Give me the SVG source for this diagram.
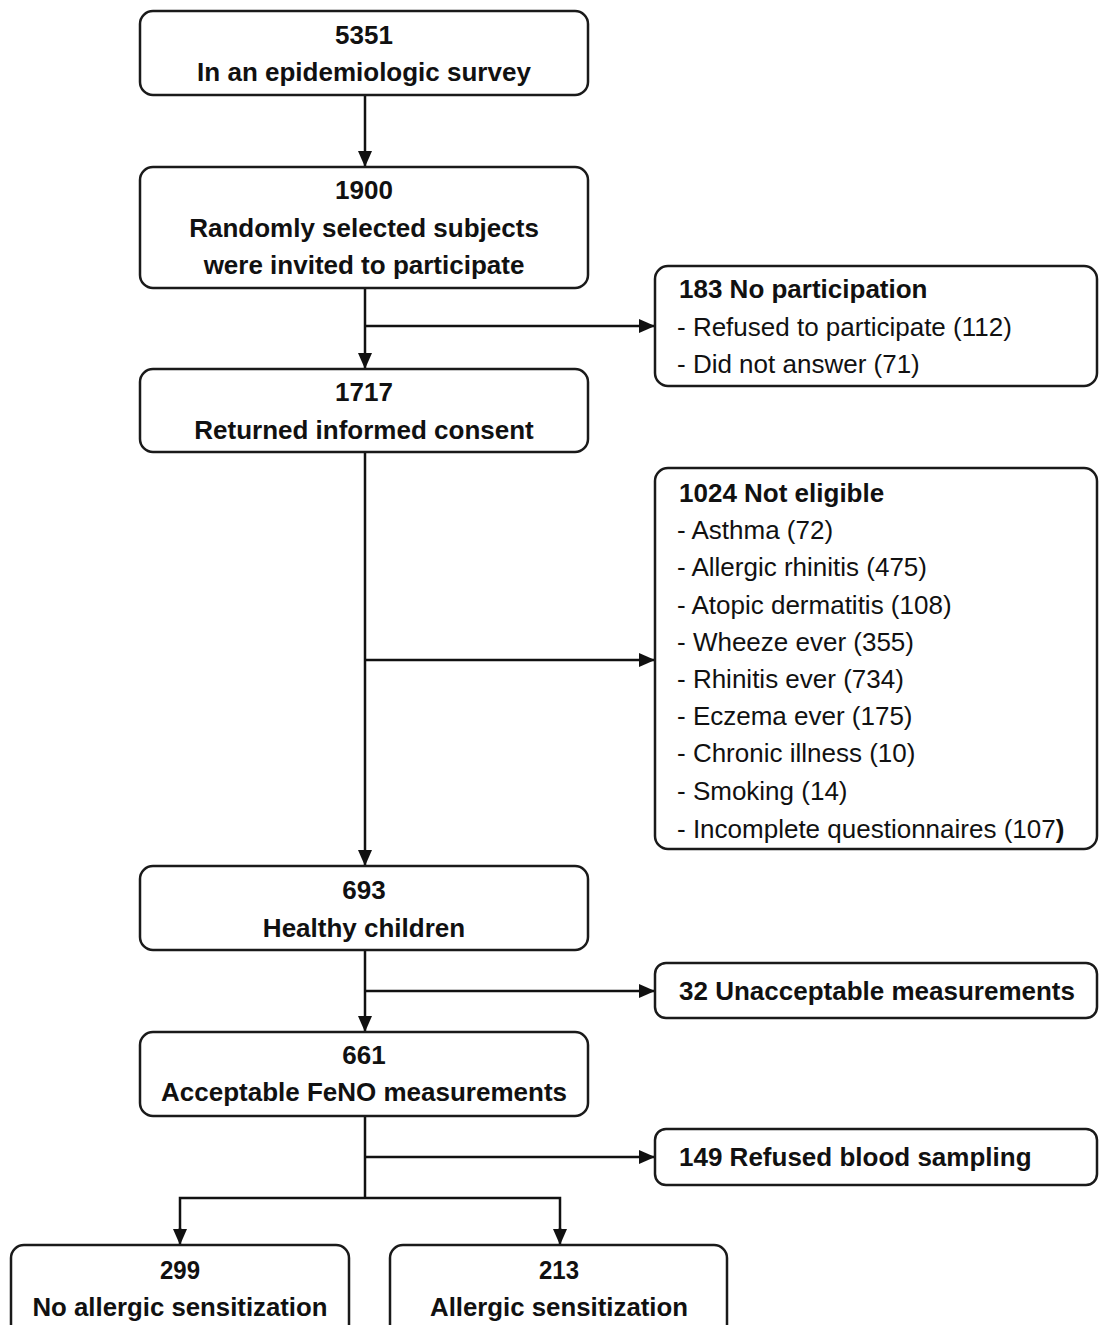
<svg xmlns="http://www.w3.org/2000/svg" width="1099" height="1325" viewBox="0 0 1099 1325">
<style>
.box{fill:#fff;stroke:#1a1a1a;stroke-width:2.5}
.b{font-family:"Liberation Sans",Arial,sans-serif;font-weight:bold;font-size:26px;fill:#111}
.c{text-anchor:middle}
.r{font-family:"Liberation Sans",Arial,sans-serif;font-size:26px;fill:#111}
.ln{fill:none;stroke:#111;stroke-width:2.5}
</style>
<defs>
<marker id="ah2" markerWidth="16" markerHeight="14" refX="15" refY="7" orient="auto" markerUnits="userSpaceOnUse" viewBox="0 0 16 14">
<path d="M0,0 L16,7 L0,14 z" fill="#111"/>
</marker>
</defs>
<g id="connectors">
<line class="ln" x1="365" y1="95" x2="365" y2="166" marker-end="url(#ah2)"/>
<line class="ln" x1="365" y1="288" x2="365" y2="368" marker-end="url(#ah2)"/>
<line class="ln" x1="365" y1="326" x2="654" y2="326" marker-end="url(#ah2)"/>
<line class="ln" x1="365" y1="452" x2="365" y2="865" marker-end="url(#ah2)"/>
<line class="ln" x1="365" y1="660" x2="654" y2="660" marker-end="url(#ah2)"/>
<line class="ln" x1="365" y1="950" x2="365" y2="1031" marker-end="url(#ah2)"/>
<line class="ln" x1="365" y1="991" x2="654" y2="991" marker-end="url(#ah2)"/>
<line class="ln" x1="365" y1="1116" x2="365" y2="1198"/>
<line class="ln" x1="365" y1="1157" x2="654" y2="1157" marker-end="url(#ah2)"/>
<polyline class="ln" points="180,1230 180,1198 560,1198 560,1230"/>
<line class="ln" x1="180" y1="1228" x2="180" y2="1244" marker-end="url(#ah2)"/>
<line class="ln" x1="560" y1="1228" x2="560" y2="1244" marker-end="url(#ah2)"/>
</g>
<g id="n5351">
<rect class="box" x="140" y="11" width="448" height="84" rx="13"/>
<text class="b c" x="364" y="44">5351</text>
<text class="b c" x="364" y="81">In an epidemiologic survey</text>
</g>
<g id="n1900">
<rect class="box" x="140" y="167" width="448" height="121" rx="13"/>
<text class="b c" x="364" y="199">1900</text>
<text class="b c" x="364" y="237">Randomly selected subjects</text>
<text class="b c" x="364" y="274">were invited to participate</text>
</g>
<g id="n183">
<rect class="box" x="655" y="266" width="442" height="120" rx="13"/>
<text class="b" x="679" y="298">183 No participation</text>
<text class="r" x="677" y="336">- Refused to participate (112)</text>
<text class="r" x="677" y="373">- Did not answer (71)</text>
</g>
<g id="n1717">
<rect class="box" x="140" y="369" width="448" height="83" rx="13"/>
<text class="b c" x="364" y="401">1717</text>
<text class="b c" x="364" y="439">Returned informed consent</text>
</g>
<g id="n1024">
<rect class="box" x="655" y="468" width="442" height="381" rx="13"/>
<text class="b" x="679" y="502">1024 Not eligible</text>
<text class="r" x="677" y="539">- Asthma (72)</text>
<text class="r" x="677" y="576">- Allergic rhinitis (475)</text>
<text class="r" x="677" y="614">- Atopic dermatitis (108)</text>
<text class="r" x="677" y="651">- Wheeze ever (355)</text>
<text class="r" x="677" y="688">- Rhinitis ever (734)</text>
<text class="r" x="677" y="725">- Eczema ever (175)</text>
<text class="r" x="677" y="762">- Chronic illness (10)</text>
<text class="r" x="677" y="800">- Smoking (14)</text>
<text class="r" x="677" y="838">- Incomplete questionnaires (107<tspan font-weight="bold">)</tspan></text>
</g>
<g id="n693">
<rect class="box" x="140" y="866" width="448" height="84" rx="13"/>
<text class="b c" x="364" y="899">693</text>
<text class="b c" x="364" y="937">Healthy children</text>
</g>
<g id="n32">
<rect class="box" x="655" y="963" width="442" height="55" rx="11"/>
<text class="b" x="679" y="1000">32 Unacceptable measurements</text>
</g>
<g id="n661">
<rect class="box" x="140" y="1032" width="448" height="84" rx="13"/>
<text class="b c" x="364" y="1064">661</text>
<text class="b c" x="364" y="1101">Acceptable FeNO measurements</text>
</g>
<g id="n149">
<rect class="box" x="655" y="1129" width="442" height="56" rx="11"/>
<text class="b" x="679" y="1166">149 Refused blood sampling</text>
</g>
<g id="n299">
<rect class="box" x="11" y="1245" width="338" height="100" rx="13"/>
<text class="b c" x="180" y="1279" textLength="40" lengthAdjust="spacingAndGlyphs">299</text>
<text class="b c" x="180" y="1316" textLength="295" lengthAdjust="spacingAndGlyphs">No allergic sensitization</text>
</g>
<g id="n213">
<rect class="box" x="390" y="1245" width="337" height="100" rx="13"/>
<text class="b c" x="559" y="1279" textLength="40" lengthAdjust="spacingAndGlyphs">213</text>
<text class="b c" x="559" y="1316" textLength="258" lengthAdjust="spacingAndGlyphs">Allergic sensitization</text>
</g>
</svg>
